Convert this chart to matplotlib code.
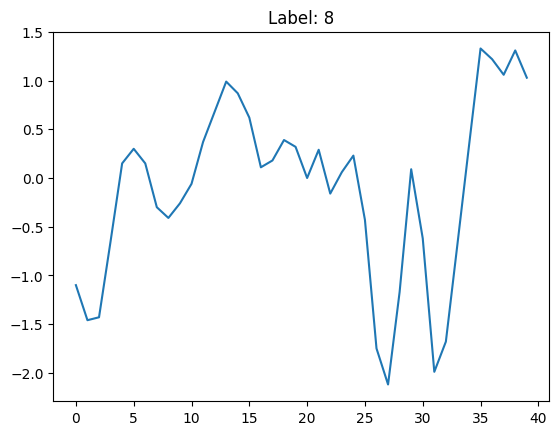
import numpy as np
import matplotlib
matplotlib.use("Agg")
import matplotlib.pyplot as plt

LABEL = 8

steps = np.arange(40)
values = [
    -1.10, -1.46, -1.43, -0.65, 0.15, 0.30, 0.15, -0.30, -0.41, -0.26,
    -0.06, 0.37, 0.68, 0.99, 0.87, 0.62, 0.11, 0.18, 0.39, 0.32,
    0.00, 0.29, -0.16, 0.06, 0.23, -0.43, -1.75, -2.12, -1.17, 0.09,
    -0.62, -1.99, -1.68, -0.68, 0.33, 1.33, 1.22, 1.06, 1.31, 1.03,
]

fig, ax = plt.subplots(figsize=(6.4, 4.8), dpi=100)
ax.plot(steps, values)
ax.set_title(f"Label: {LABEL}")

fig.savefig("out.png", dpi=100, bbox_inches="tight")
